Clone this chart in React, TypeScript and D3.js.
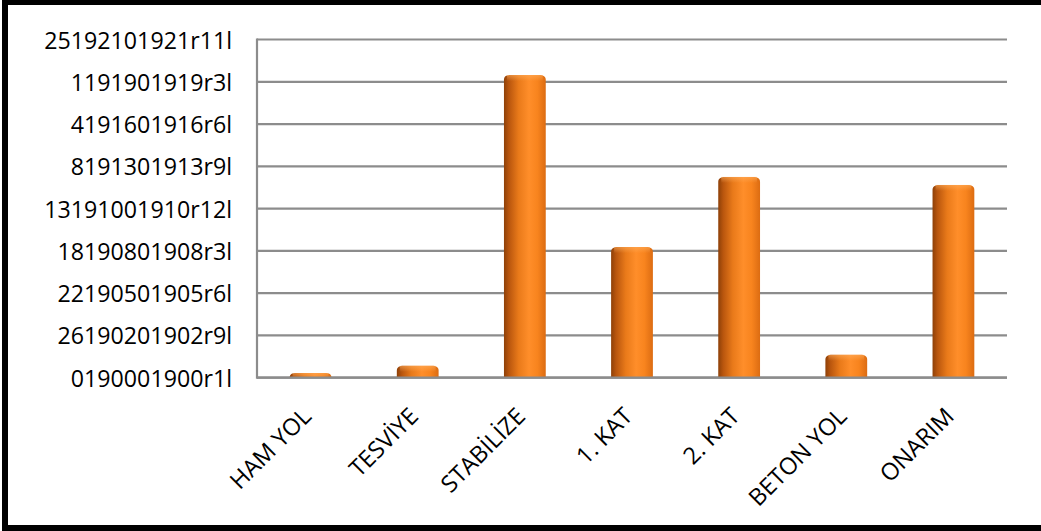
import React from "react";
import * as d3 from "d3";

const categories = ["HAM YOL", "TESVİYE", "STABİLİZE", "1. KAT", "2. KAT", "BETON YOL", "ONARIM"];
const values = [0.11, 0.28, 7.16, 3.09, 4.75, 0.54, 4.56];
const tickValues = [0, 1, 2, 3, 4, 5, 6, 7, 8];
const tickLabels = [
  "0190001900r1l",
  "26190201902r9l",
  "22190501905r6l",
  "18190801908r3l",
  "13191001910r12l",
  "8191301913r9l",
  "4191601916r6l",
  "1191901919r3l",
  "25192101921r11l",
];

const W = 1041;
const H = 531;
const plotLeft = 257;
const plotRight = 1007;
const plotTop = 39.5;
const plotBottom = 377.7;
const FONT = "'Open Sans', 'Noto Sans', sans-serif";

export default function App() {
  const x = d3.scaleBand<string>().domain(categories).range([plotLeft, plotRight]).padding(0);
  const y = d3.scaleLinear().domain([0, 8]).range([plotBottom, plotTop]);
  const bw = x.bandwidth() * 0.39;

  const barPath = (cx: number, v: number) => {
    const top = y(v);
    const h = plotBottom - top;
    const x0 = cx - bw / 2;
    const x1 = cx + bw / 2;
    const ry = Math.min(5, h);
    const rx = 7;
    const p = d3.path();
    p.moveTo(x0, plotBottom);
    p.lineTo(x0, top + ry);
    p.bezierCurveTo(x0, top + ry * 0.3, x0 + rx * 0.3, top, x0 + rx, top);
    p.lineTo(x1 - rx, top);
    p.bezierCurveTo(x1 - rx * 0.3, top, x1, top + ry * 0.3, x1, top + ry);
    p.lineTo(x1, plotBottom);
    p.closePath();
    return p.toString();
  };

  return (
    <svg
      width={W}
      height={H}
      style={{ position: "absolute", left: 0, top: 0, background: "#fff" }}
    >
      <defs>
        <linearGradient id="cyl" x1="0" x2="1" y1="0" y2="0">
          <stop offset="0%" stopColor="#8e4008" />
          <stop offset="12%" stopColor="#b9560e" />
          <stop offset="35%" stopColor="#e97a1a" />
          <stop offset="60%" stopColor="#ff8e2a" />
          <stop offset="80%" stopColor="#f8841e" />
          <stop offset="100%" stopColor="#dc6c12" />
        </linearGradient>
        <linearGradient id="cap" x1="0" x2="0" y1="0" y2="1">
          <stop offset="0%" stopColor="#ffb060" stopOpacity="0.55" />
          <stop offset="100%" stopColor="#ffb060" stopOpacity="0" />
        </linearGradient>
      </defs>
      <rect x={0} y={0} width={W} height={H} fill="#fff" />

      {tickValues.map((t) => (
        <line
          key={"g" + t}
          x1={plotLeft}
          x2={plotRight}
          y1={y(t)}
          y2={y(t)}
          stroke="#8c8c8c"
          strokeWidth={2.2}
        />
      ))}

      {categories.map((c, i) => {
        const cx = (x(c) as number) + x.bandwidth() / 2;
        const top = y(values[i]);
        return (
          <g key={c}>
            <path d={barPath(cx, values[i])} fill="url(#cyl)" />
            <rect
              x={cx - bw / 2 + 3}
              y={top}
              width={bw - 6}
              height={Math.min(6, plotBottom - top)}
              fill="url(#cap)"
            />
          </g>
        );
      })}

      <line x1={plotLeft} x2={plotLeft} y1={plotTop - 1.1} y2={plotBottom + 1.1} stroke="#8c8c8c" strokeWidth={2.2} />
      <line x1={plotLeft} x2={plotRight} y1={plotBottom} y2={plotBottom} stroke="#8c8c8c" strokeWidth={2.2} />

      {tickValues.map((t, i) => (
        <text
          key={"t" + t}
          x={232}
          y={y(t)}
          textAnchor="end"
          dominantBaseline="central"
          fontFamily={FONT}
          fontSize={23.2}
          fill="#000"
        >
          {tickLabels[i]}
        </text>
      ))}

      {categories.map((c) => {
        const cx = (x(c) as number) + x.bandwidth() / 2;
        return (
          <text
            key={"x" + c}
            transform={`translate(${cx + 2},${plotBottom + 40}) rotate(-45)`}
            textAnchor="end"
            fontFamily={FONT}
            fontSize={23.5}
            fill="#000"
          >
            {c}
          </text>
        );
      })}

      <rect x={5} y={2} width={W + 20} height={H - 5} fill="none" stroke="#000" strokeWidth={6} />
    </svg>
  );
}
